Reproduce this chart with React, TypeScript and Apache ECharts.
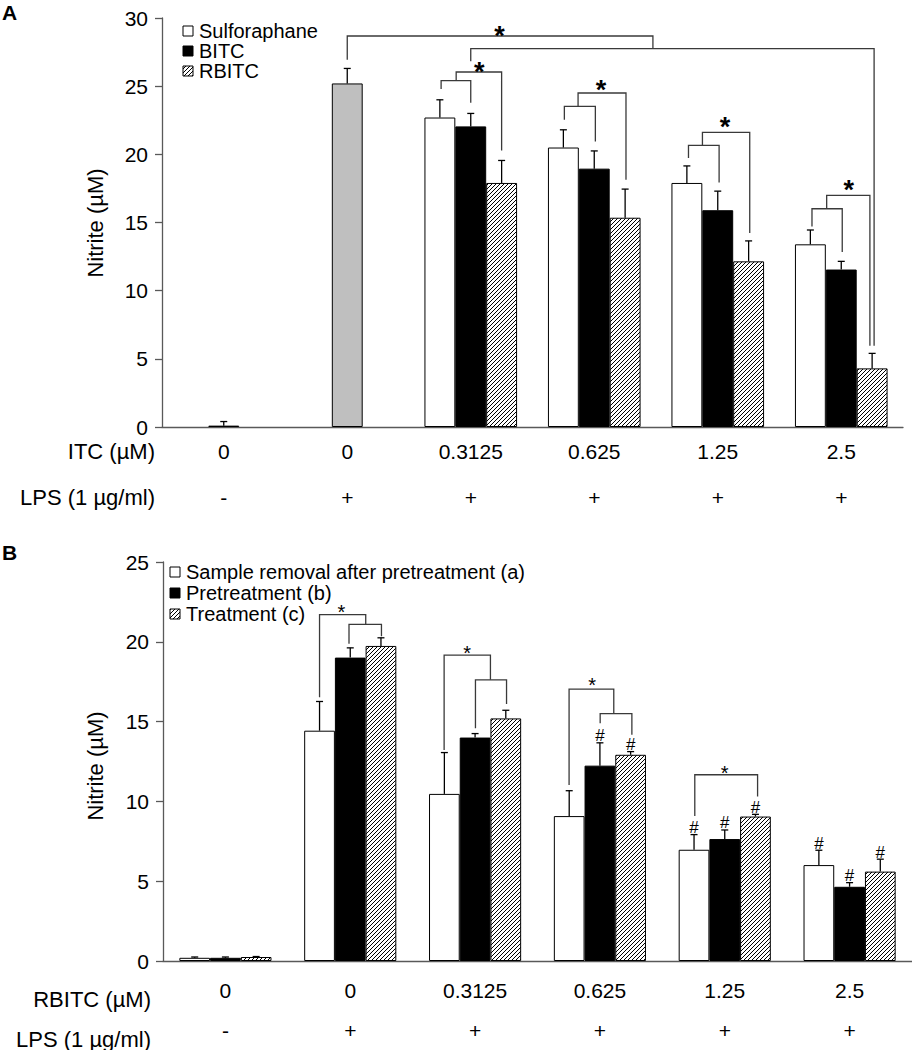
import React, { useEffect, useRef } from 'react';
import * as echarts from 'echarts';

// ---------- Panel A data ----------
const categoriesA = ['0', '0', '0.3125', '0.625', '1.25', '2.5'];
const lpsA = ['-', '+', '+', '+', '+', '+'];
const sulforaphane = [null, null, 22.7, 20.5, 17.9, 13.4];
const sulforaphaneErr = [null, null, 1.3, 1.3, 1.25, 1.05];
const bitc = [0.1, 25.2, 22.05, 18.95, 15.9, 11.55];
const bitcErr = [0.3, 1.1, 0.95, 1.3, 1.4, 0.6];
const rbitc = [null, null, 17.9, 15.35, 12.15, 4.3];
const rbitcErr = [null, null, 1.65, 2.1, 1.5, 1.1];
const controlIdxA = [0, 1];
// brackets: [x1, y1, x2, y2, top] (x in category units, y in µM)
const bracketsA = [
  [1.0, 26.94, 3.475, 27.75, 28.68],
  [2.0, 26.82, 5.266, 5.96, 27.75],
  [1.76, 24.79, 2.0, 23.79, 25.4],
  [1.882, 25.4, 2.25, 20.29, 26.04],
  [2.758, 22.54, 3.009, 20.95, 23.52],
  [2.869, 23.52, 3.257, 18.14, 24.5],
  [3.763, 19.73, 4.011, 17.94, 20.66],
  [3.876, 20.66, 4.259, 14.23, 21.61],
  [4.763, 14.71, 5.008, 12.84, 16.01],
  [4.882, 16.01, 5.232, 5.96, 16.99],
];
const starsA = [[2.232, 29.09], [2.068, 26.45], [3.055, 25.11], [4.059, 22.37], [5.06, 17.77]];

// ---------- Panel B data ----------
const categoriesB = ['0', '0', '0.3125', '0.625', '1.25', '2.5'];
const lpsB = ['-', '+', '+', '+', '+', '+'];
const removal = [0.2, 14.43, 10.47, 9.08, 6.97, 6.01];
const removalErr = [0.05, 1.83, 2.59, 1.59, 0.95, 0.93];
const pretreat = [0.2, 19.01, 14.0, 12.24, 7.64, 4.65];
const pretreatErr = [0.05, 0.61, 0.25, 1.43, 0.57, 0.26];
const treat = [0.25, 19.74, 15.2, 12.92, 9.05, 5.6];
const treatErr = [0.03, 0.51, 0.51, 0.2, 0.14, 0.78];
const hashRemoval = [0, 0, 0, 0, 1, 1];
const hashPretreat = [0, 0, 0, 1, 1, 1];
const hashTreat = [0, 0, 0, 1, 1, 1];
const bracketsB = [
  [0.754, 16.52, 1.124, 21.09, 21.7],
  [0.99, 19.88, 1.25, 20.35, 21.09],
  [1.752, 13.22, 2.123, 17.62, 19.17],
  [2.003, 14.58, 2.252, 16.11, 17.62],
  [2.753, 11.02, 3.111, 15.5, 17.03],
  [3.002, 14.89, 3.256, 14.18, 15.5],
  [3.76, 9.08, 4.263, 10.31, 11.67],
];
const starsB = [[0.929, 22.13], [1.936, 19.58], [2.938, 17.54], [4.0, 12.04]];

const FONT = '"Liberation Sans", Arial, sans-serif';
const AXIS = '#595959';
const LINE = '#3a3a3a';
const BAR_FRAC = 0.25;

function makeHatch(): HTMLCanvasElement {
  const s = 4;
  const c = document.createElement('canvas');
  c.width = s;
  c.height = s;
  const ctx = c.getContext('2d')!;
  ctx.fillStyle = '#fff';
  ctx.fillRect(0, 0, s, s);
  ctx.strokeStyle = '#000';
  ctx.lineWidth = 1;
  ctx.beginPath();
  ctx.moveTo(-1, s + 1);
  ctx.lineTo(s + 1, -1);
  ctx.moveTo(-1, 1);
  ctx.lineTo(1, -1);
  ctx.moveTo(s - 1, s + 1);
  ctx.lineTo(s + 1, s - 1);
  ctx.stroke();
  return c;
}

function errRows(vals: (number | null)[], errs: (number | null)[], slot: number) {
  const rows: number[][] = [];
  vals.forEach((v, i) => {
    if (v != null && errs[i] != null) rows.push([i, v, errs[i] as number, slot]);
  });
  return rows;
}

function hashRows(vals: number[], errs: number[], flags: number[], slot: number) {
  const rows: number[][] = [];
  vals.forEach((v, i) => {
    if (flags[i]) rows.push([i, v + errs[i], slot]);
  });
  return rows;
}

const errorRender = (frac: number) => (params: any, api: any) => {
  const cat = api.value(0);
  const base = api.coord([cat, api.value(1)]);
  const top = api.coord([cat, api.value(1) + api.value(2)]);
  const bw = api.size([1, 0])[0];
  const x = base[0] + api.value(3) * frac * bw;
  const st = { stroke: '#000', lineWidth: 1.3 };
  return {
    type: 'group',
    children: [
      { type: 'line', shape: { x1: x, y1: base[1], x2: x, y2: top[1] }, style: st },
      { type: 'line', shape: { x1: x - 3.5, y1: top[1], x2: x + 3.5, y2: top[1] }, style: st },
    ],
  };
};

const bracketRender = (params: any, api: any) => {
  const base = api.coord([0, 0]);
  const bw = api.size([1, 0])[0];
  const px = (u: number) => base[0] + u * bw;
  const py = (v: number) => api.coord([0, v])[1];
  const x1 = px(api.value(2));
  const y1 = py(api.value(3));
  const x2 = px(api.value(4));
  const y2 = py(api.value(5));
  const yt = py(api.value(1));
  return {
    type: 'polyline',
    shape: { points: [[x1, y1], [x1, yt], [x2, yt], [x2, y2]] },
    style: { stroke: LINE, fill: null, lineWidth: 1.3 },
  };
};

const starRender = (size: number, weight: string) => (params: any, api: any) => {
  const base = api.coord([0, api.value(1)]);
  const bw = api.size([1, 0])[0];
  return {
    type: 'text',
    x: base[0] + api.value(2) * bw,
    y: base[1] + size * 0.2,
    style: { text: '*', font: `${weight} ${size}px ${FONT}`, fill: '#000', align: 'center', verticalAlign: 'middle' },
  };
};

const hashRender = (frac: number) => (params: any, api: any) => {
  const cat = api.value(0);
  const c = api.coord([cat, api.value(1)]);
  const bw = api.size([1, 0])[0];
  return {
    type: 'text',
    x: c[0] + api.value(2) * frac * bw,
    y: c[1] - 7,
    style: { text: '#', font: `17px ${FONT}`, fill: '#000', align: 'center', verticalAlign: 'middle' },
  };
};

export default function App() {
  const ref = useRef<HTMLDivElement>(null);
  useEffect(() => {
    if (!ref.current) return;
    const chart = echarts.init(ref.current, undefined, { renderer: 'svg' });
    const hatch = { image: makeHatch(), repeat: 'repeat' } as any;
    const fracB = 0.246;

    const barBase = { type: 'bar', barGap: '0%', z: 2 };
    const white = { color: '#fff', borderColor: '#000', borderWidth: 1 };
    const black = { color: '#000', borderColor: '#000', borderWidth: 1 };
    const hatched = { color: hatch, borderColor: '#000', borderWidth: 1 };

    const yAxisBase = (max: number) => ({
      type: 'value',
      min: 0,
      max,
      interval: 5,
      axisLine: { show: true, lineStyle: { color: AXIS, width: 1.3 } },
      axisTick: { show: true, length: 7, lineStyle: { color: AXIS, width: 1.3 } },
      splitLine: { show: false },
      axisLabel: { color: '#000', fontSize: 21, fontFamily: FONT, margin: 14 },
    });
    const xAxisBase = (cats: string[], lps: string[], lh: number, margin: number) => ({
      type: 'category',
      data: cats,
      axisLine: { show: true, lineStyle: { color: AXIS, width: 1.3 } },
      axisTick: { show: false },
      axisLabel: {
        interval: 0,
        color: '#000',
        fontSize: 21,
        fontFamily: FONT,
        lineHeight: lh,
        margin,
        formatter: (v: string, i: number) => `${v}\n${lps[i]}`,
      },
    });

    const bitcData = bitc.map((v, i) =>
      controlIdxA.includes(i) ? { value: v, itemStyle: { color: '#bfbfbf', borderColor: '#000' } } : v
    );

    const legendItem = (x: number, y: number, fill: any, text: string) => [
      { type: 'rect', shape: { x, y: y - 5, width: 10, height: 10 }, style: { fill, stroke: '#000', lineWidth: 1 } },
      {
        type: 'text',
        x: x + 16,
        y,
        style: { text, font: `20px ${FONT}`, fill: '#000', align: 'left', verticalAlign: 'middle' },
      },
    ];
    const textEl = (x: number, y: number, text: string, align: string, font: string, rotation = 0) => ({
      type: 'text',
      x,
      y,
      rotation,
      style: { text, font, fill: '#000', align, verticalAlign: 'middle' },
    });

    chart.setOption({
      animation: false,
      textStyle: { fontFamily: FONT },
      grid: [
        { left: 162, top: 18, width: 741, height: 409 },
        { left: 163, top: 562, width: 749, height: 408 },
      ],
      xAxis: [xAxisBase(categoriesA, lpsA, 46, 1), { ...xAxisBase(categoriesB, lpsB, 40, 9), gridIndex: 1 }],
      yAxis: [yAxisBase(30), { ...yAxisBase(25), gridIndex: 1 }],
      series: [
        { ...barBase, name: 'Sulforaphane', data: sulforaphane, barWidth: '25%', itemStyle: white },
        { ...barBase, name: 'BITC', data: bitcData, barWidth: '25%', itemStyle: black },
        { ...barBase, name: 'RBITC', data: rbitc, barWidth: '25%', itemStyle: hatched },
        {
          type: 'custom',
          z: 3,
          renderItem: errorRender(BAR_FRAC),
          data: [
            ...errRows(sulforaphane, sulforaphaneErr, -1),
            ...errRows(bitc, bitcErr, 0),
            ...errRows(rbitc, rbitcErr, 1),
          ],
        },
        { type: 'custom', z: 3, renderItem: bracketRender, encode: { x: 0, y: 1 }, data: bracketsA.map((b) => [0, b[4], b[0], b[1], b[2], b[3]]) },
        { type: 'custom', z: 4, renderItem: starRender(27, 'bold'), encode: { x: 0, y: 1 }, data: starsA.map((s) => [0, s[1], s[0]]) },

        { ...barBase, name: 'Sample removal after pretreatment (a)', xAxisIndex: 1, yAxisIndex: 1, data: removal, barWidth: '24.6%', itemStyle: white },
        { ...barBase, name: 'Pretreatment (b)', xAxisIndex: 1, yAxisIndex: 1, data: pretreat, barWidth: '24.6%', itemStyle: black },
        { ...barBase, name: 'Treatment (c)', xAxisIndex: 1, yAxisIndex: 1, data: treat, barWidth: '24.6%', itemStyle: hatched },
        {
          type: 'custom',
          z: 3,
          xAxisIndex: 1,
          yAxisIndex: 1,
          renderItem: errorRender(fracB),
          data: [...errRows(removal, removalErr, -1), ...errRows(pretreat, pretreatErr, 0), ...errRows(treat, treatErr, 1)],
        },
        {
          type: 'custom',
          z: 3,
          xAxisIndex: 1,
          yAxisIndex: 1,
          renderItem: bracketRender,
          encode: { x: 0, y: 1 },
          data: bracketsB.map((b) => [0, b[4], b[0], b[1], b[2], b[3]]),
        },
        { type: 'custom', z: 4, xAxisIndex: 1, yAxisIndex: 1, renderItem: starRender(20, 'normal'), encode: { x: 0, y: 1 }, data: starsB.map((s) => [0, s[1], s[0]]) },
        {
          type: 'custom',
          z: 4,
          xAxisIndex: 1,
          yAxisIndex: 1,
          renderItem: hashRender(fracB),
          data: [
            ...hashRows(removal, removalErr, hashRemoval, -1),
            ...hashRows(pretreat, pretreatErr, hashPretreat, 0),
            ...hashRows(treat, treatErr, hashTreat, 1),
          ],
        },
      ],
      graphic: [
        textEl(2, 12, 'A', 'left', `bold 21px ${FONT}`),
        textEl(2, 552, 'B', 'left', `bold 21px ${FONT}`),
        textEl(95, 223, 'Nitrite (µM)', 'center', `22px ${FONT}`, Math.PI / 2),
        textEl(95, 766, 'Nitrite (µM)', 'center', `22px ${FONT}`, Math.PI / 2),
        textEl(155, 451, 'ITC (µM)', 'right', `22px ${FONT}`),
        textEl(155, 497, 'LPS (1 µg/ml)', 'right', `22px ${FONT}`),
        textEl(151, 999, 'RBITC (µM)', 'right', `22px ${FONT}`),
        textEl(151, 1039, 'LPS (1 µg/ml)', 'right', `22px ${FONT}`),
        ...legendItem(183, 31, '#fff', 'Sulforaphane'),
        ...legendItem(183, 51, '#000', 'BITC'),
        ...legendItem(183, 71, hatch, 'RBITC'),
        ...legendItem(170, 572, '#fff', 'Sample removal after pretreatment (a)'),
        ...legendItem(170, 593, '#000', 'Pretreatment (b)'),
        ...legendItem(170, 614, hatch, 'Treatment (c)'),
      ],
    });
    return () => chart.dispose();
  }, []);
  return <div ref={ref} style={{ position: 'fixed', left: 0, top: 0, width: 912, height: 1050, background: '#fff' }} />;
}
